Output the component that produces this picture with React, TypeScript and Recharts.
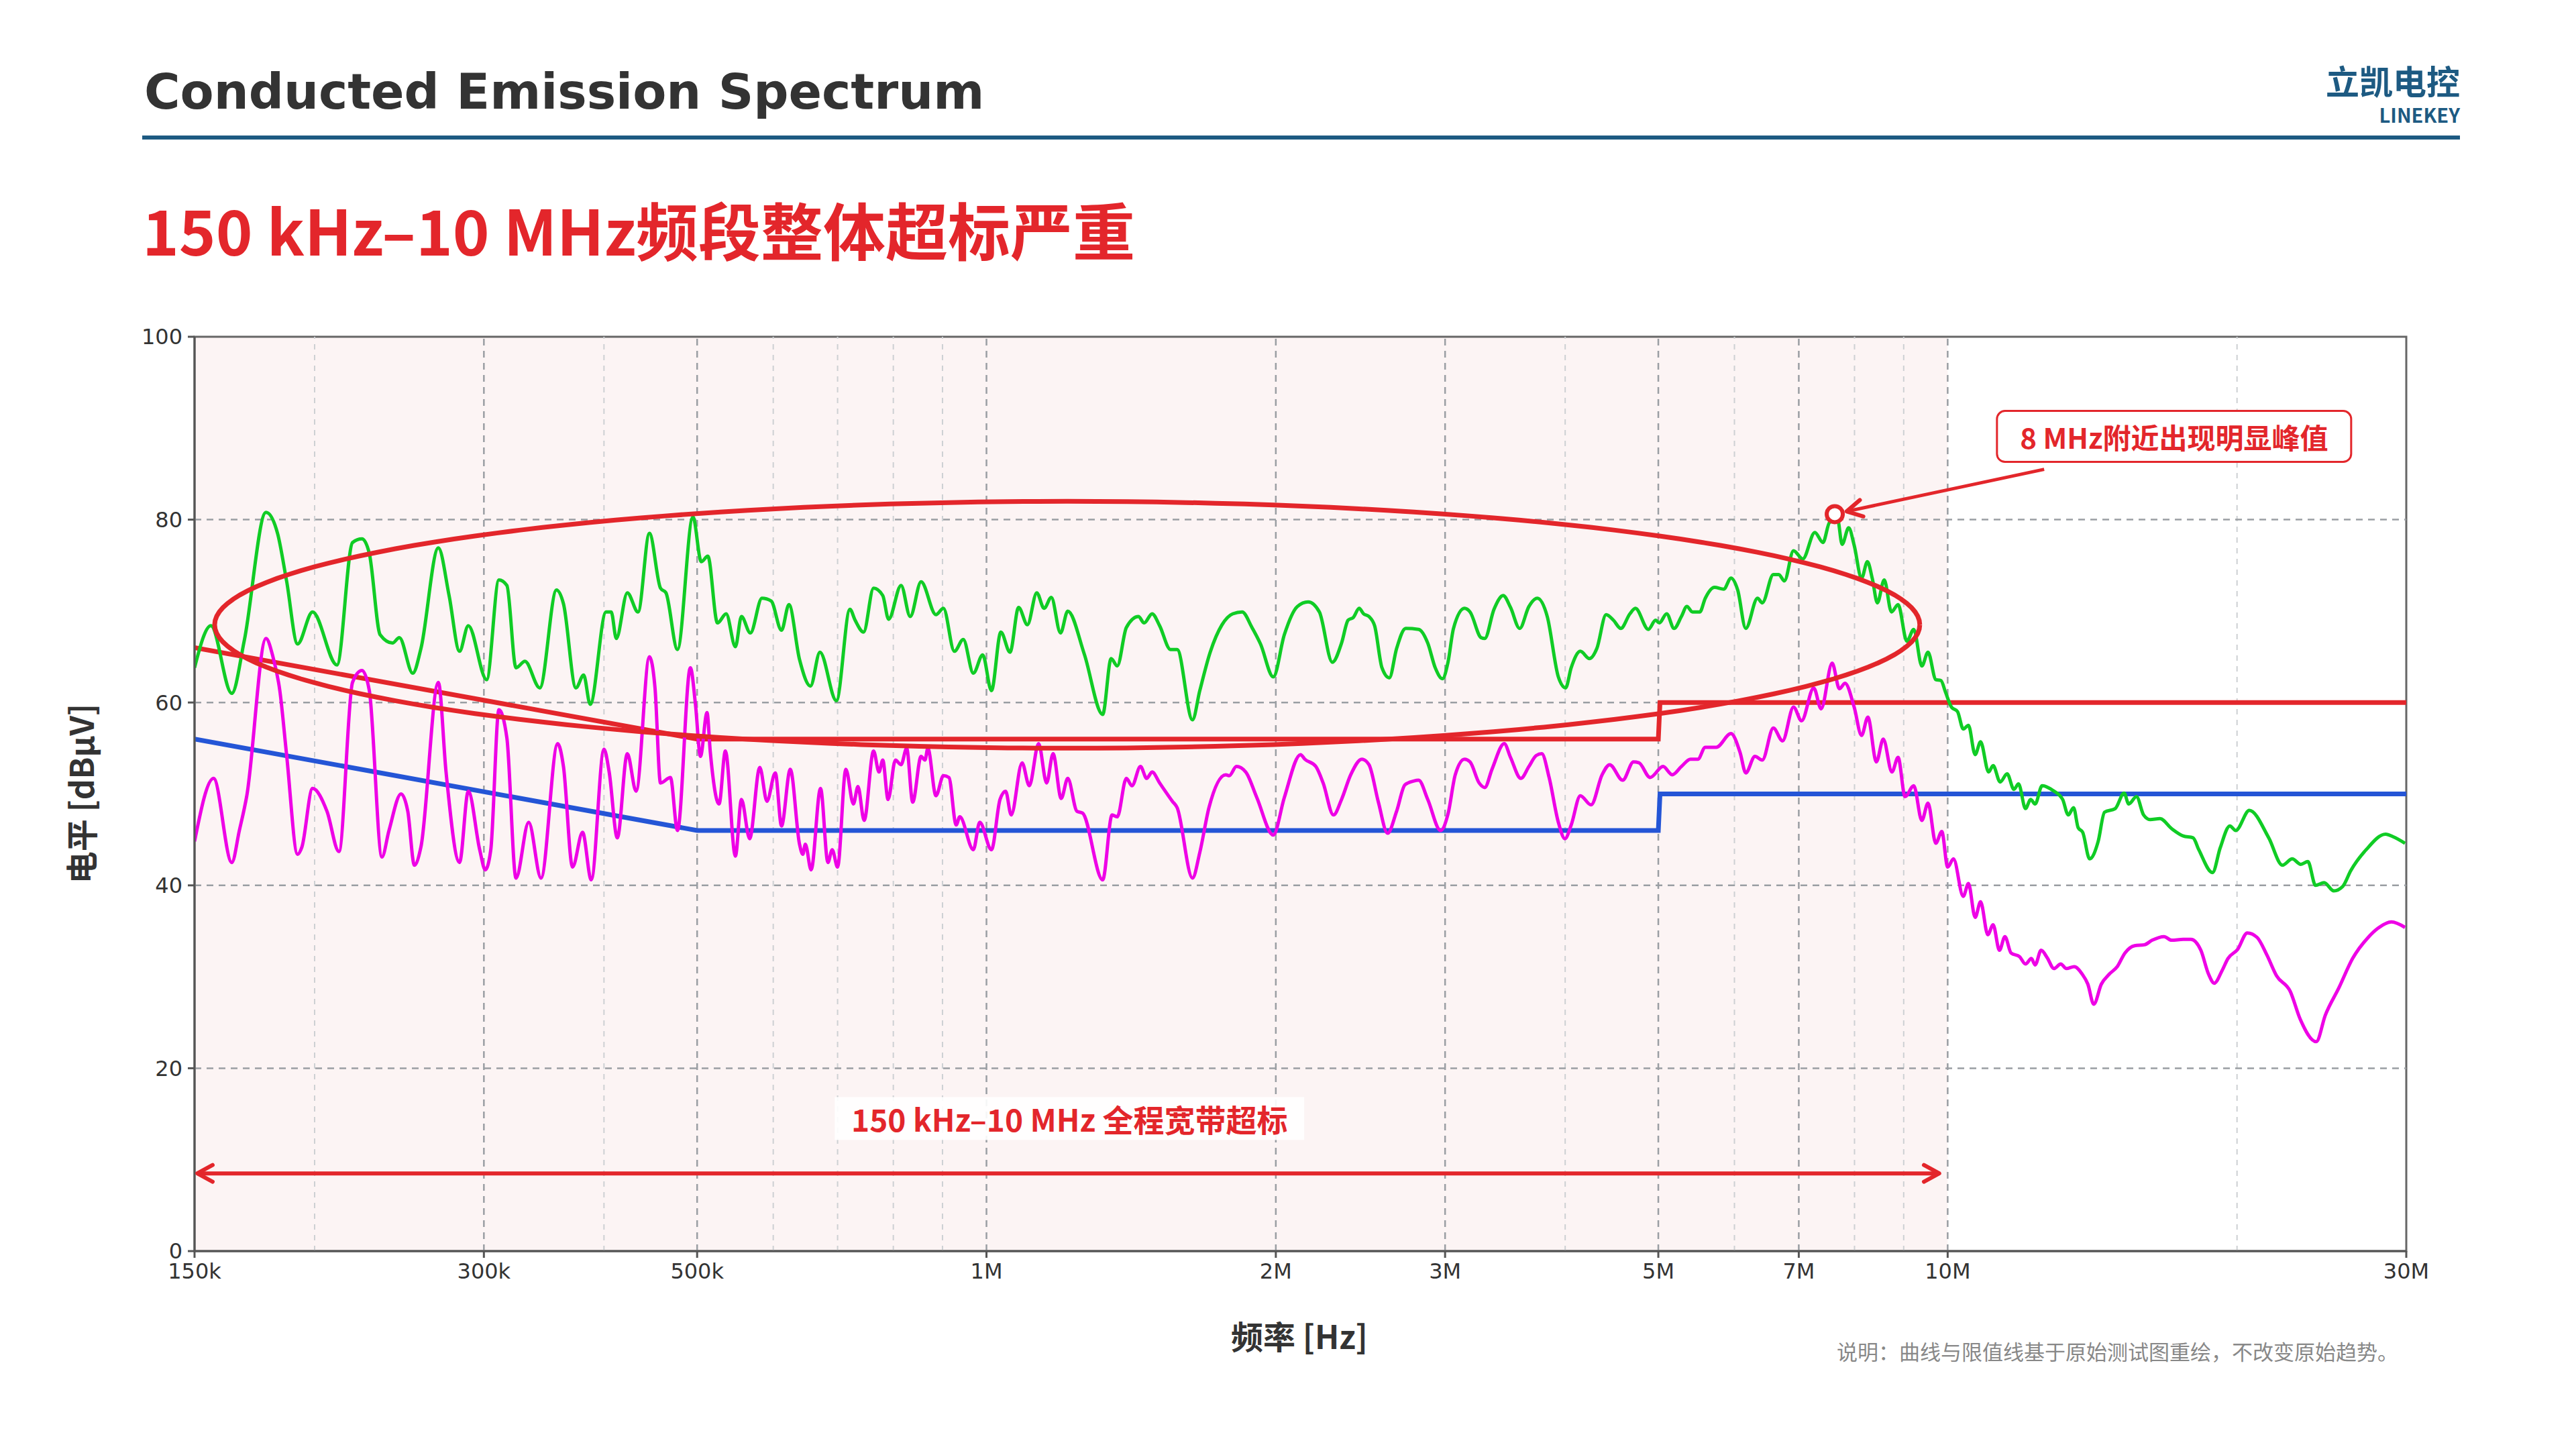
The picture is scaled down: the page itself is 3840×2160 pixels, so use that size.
import React from 'react';
import {
  ComposedChart, Line, XAxis, YAxis, ReferenceLine, ReferenceArea, ReferenceDot,
} from 'recharts';

// frequencies in MHz, levels in dBµV
const peakTrace = [
  [0.150,63.8],[0.156,68.4],[0.164,61.0],[0.169,66.8],[0.178,80.8],[0.183,78.5],[0.187,73.3],[0.192,66.4],[0.199,69.9],[0.211,64.1],
  [0.219,77.5],[0.224,77.9],[0.228,76.3],[0.234,67.4],[0.241,66.5],[0.245,67.1],[0.253,63.2],[0.258,65.9],[0.269,76.9],[0.276,71.7],
  [0.283,65.6],[0.289,68.4],[0.302,62.5],[0.311,73.4],[0.317,72.8],[0.324,63.8],[0.331,64.5],[0.343,61.6],[0.357,72.3],[0.363,70.8],
  [0.374,61.6],[0.381,63.0],[0.387,59.8],[0.402,69.9],[0.407,69.9],[0.412,67.0],[0.423,72.0],[0.434,69.9],[0.446,78.5],[0.458,72.5],
  [0.464,72.0],[0.477,65.8],[0.495,80.3],[0.505,75.4],[0.513,76.0],[0.525,68.7],[0.536,69.7],[0.548,66.1],[0.556,69.4],[0.568,67.6],
  [0.584,71.4],[0.597,71.1],[0.612,67.9],[0.623,70.7],[0.639,64.7],[0.656,61.8],[0.671,65.5],[0.698,60.2],[0.721,70.2],[0.730,69.0],
  [0.745,67.7],[0.763,72.5],[0.780,71.7],[0.791,69.1],[0.815,72.8],[0.833,69.4],[0.855,73.2],[0.886,69.6],[0.902,70.3],[0.926,65.6],
  [0.946,66.9],[0.969,63.2],[0.991,65.2],[1.012,61.3],[1.035,67.7],[1.058,65.5],[1.080,70.4],[1.103,68.5],[1.128,72.0],[1.148,70.3],
  [1.168,71.5],[1.194,67.6],[1.215,70.0],[1.264,65.3],[1.321,58.7],[1.348,64.8],[1.368,64.0],[1.398,68.2],[1.439,69.4],[1.459,68.7],
  [1.487,69.7],[1.514,68.4],[1.554,65.8],[1.579,65.8],[1.638,58.1],[1.667,61.3],[1.709,65.5],[1.758,68.5],[1.804,69.7],[1.845,69.9],
  [1.889,68.2],[1.928,66.4],[1.988,62.8],[2.041,67.4],[2.106,70.5],[2.161,71.0],[2.220,69.9],[2.290,64.4],[2.341,66.5],[2.378,69.0],
  [2.408,69.3],[2.442,70.3],[2.468,69.7],[2.500,69.4],[2.534,68.4],[2.579,63.8],[2.625,62.7],[2.671,65.9],[2.730,68.1],[2.816,68.0],
  [2.878,66.5],[2.930,63.8],[2.981,62.6],[3.021,64.4],[3.061,68.1],[3.143,70.3],[3.185,69.9],[3.270,67.1],[3.299,67.0],[3.373,70.2],
  [3.448,71.7],[3.509,70.4],[3.587,68.1],[3.667,70.5],[3.742,71.4],[3.832,69.4],[3.935,62.8],[4.004,61.6],[4.058,63.8],[4.148,65.6],
  [4.240,64.8],[4.315,65.9],[4.412,69.6],[4.490,69.0],[4.570,68.1],[4.671,69.7],[4.733,70.3],[4.882,68.0],[4.968,69.0],[5.012,68.7],
  [5.101,69.7],[5.192,68.1],[5.284,69.4],[5.354,70.5],[5.426,69.9],[5.522,69.9],[5.595,71.4],[5.720,72.6],[5.848,72.4],[5.951,73.6],
  [6.047,72.3],[6.165,68.1],[6.341,71.4],[6.414,70.9],[6.586,74.0],[6.673,74.0],[6.763,73.3],[6.912,76.6],[7.067,75.7],[7.275,78.6],
  [7.417,77.5],[7.536,79.7],[7.683,80.0],[7.765,77.3],[7.889,79.1],[7.993,77.2],[8.136,73.6],[8.25,75.4],[8.35,73.5],[8.45,70.9],
  [8.59,73.4],[8.74,69.9],[8.88,70.7],[9.07,66.7],[9.22,68.0],[9.40,64.0],[9.54,65.5],[9.72,62.5],[9.84,62.4],[9.95,61.1],
  [10.09,59.5],[10.24,59.0],[10.38,57.1],[10.51,57.5],[10.68,54.3],[10.82,55.7],[11.03,52.4],[11.15,53.1],[11.34,51.3],[11.53,52.2],
  [11.72,50.5],[11.85,51.1],[12.05,48.4],[12.20,49.4],[12.33,48.9],[12.54,50.9],[12.86,50.4],[13.17,49.4],[13.35,47.7],[13.52,48.5],
  [13.67,46.3],[13.82,45.8],[14.05,42.9],[14.34,44.8],[14.56,48.0],[14.94,48.4],[15.26,50.1],[15.43,48.9],[15.72,49.7],[15.99,47.7],
  [16.24,47.2],[16.63,47.3],[17.10,46.2],[17.58,45.4],[18.00,45.2],[18.25,43.9],[18.86,41.4],[19.21,44.1],[19.66,46.5],[19.94,46.0],
  [20.60,48.2],[21.58,45.2],[22.30,42.2],[22.83,42.9],[23.30,42.3],[23.70,42.6],[24.14,40.0],[24.64,40.3],[25.22,39.4],[25.77,39.9],
  [26.26,41.6],[27.25,43.9],[28.55,45.6],[29.09,45.3],[29.91,44.6],
];

const avgTrace = [
  [0.150,44.8],[0.157,51.7],[0.164,42.5],[0.167,46.0],[0.170,49.8],[0.178,67.0],[0.181,65.0],[0.184,61.3],[0.187,54.3],[0.192,43.4],
  [0.194,44.2],[0.199,50.6],[0.206,48.1],[0.212,43.7],[0.219,62.2],[0.224,63.5],[0.228,61.3],[0.235,43.1],[0.239,46.0],[0.246,50.0],
  [0.250,48.1],[0.254,42.2],[0.258,44.2],[0.269,62.2],[0.274,52.4],[0.283,42.5],[0.289,50.3],[0.297,43.9],[0.301,41.7],[0.305,43.9],
  [0.311,59.2],[0.317,56.1],[0.324,40.8],[0.334,46.9],[0.344,40.8],[0.358,55.5],[0.363,53.0],[0.371,42.0],[0.380,45.8],[0.388,40.6],
  [0.400,54.9],[0.405,52.4],[0.413,45.2],[0.423,54.4],[0.432,50.3],[0.446,65.0],[0.452,61.6],[0.458,51.2],[0.469,51.8],[0.477,46.0],
  [0.492,63.8],[0.498,59.8],[0.504,54.1],[0.512,58.9],[0.516,54.6],[0.527,48.9],[0.535,54.7],[0.548,43.2],[0.556,49.4],[0.567,45.1],
  [0.581,52.9],[0.591,49.2],[0.603,52.3],[0.612,46.5],[0.625,52.7],[0.639,44.5],[0.644,43.4],[0.648,44.5],[0.657,41.7],[0.672,50.6],
  [0.684,42.5],[0.691,43.9],[0.700,42.0],[0.714,52.7],[0.727,48.9],[0.735,50.8],[0.746,47.1],[0.763,54.7],[0.773,52.4],[0.780,53.7],
  [0.790,49.4],[0.804,53.7],[0.815,53.2],[0.826,55.0],[0.838,49.1],[0.855,54.1],[0.863,53.7],[0.869,55.0],[0.886,49.8],[0.902,52.0],
  [0.914,51.8],[0.930,46.6],[0.938,47.5],[0.969,43.9],[0.984,46.9],[1.012,43.9],[1.033,49.4],[1.047,50.3],[1.061,47.7],[1.089,53.4],
  [1.108,50.9],[1.133,55.5],[1.155,51.2],[1.173,54.4],[1.196,49.5],[1.215,51.7],[1.242,48.1],[1.259,47.9],[1.321,40.6],[1.351,47.7],
  [1.368,47.5],[1.398,51.7],[1.417,50.9],[1.446,53.0],[1.468,51.7],[1.487,52.4],[1.514,51.2],[1.561,49.2],[1.579,48.5],[1.638,40.8],
  [1.667,43.6],[1.704,48.5],[1.774,52.1],[1.789,52.0],[1.820,53.0],[1.861,52.4],[1.911,49.6],[1.988,45.5],[2.041,49.6],[2.122,54.3],
  [2.144,53.8],[2.201,53.0],[2.240,51.2],[2.296,47.7],[2.341,49.4],[2.393,52.1],[2.458,53.8],[2.500,53.2],[2.557,49.1],[2.614,45.7],
  [2.671,48.1],[2.725,51.0],[2.781,51.4],[2.816,51.5],[2.878,49.4],[2.968,46.0],[3.021,47.8],[3.074,52.1],[3.143,53.8],[3.185,53.5],
  [3.255,51.2],[3.299,50.7],[3.357,52.7],[3.457,55.5],[3.509,54.0],[3.597,51.7],[3.667,53.0],[3.732,54.2],[3.782,54.4],[3.849,51.8],
  [3.935,46.9],[3.998,45.1],[4.058,46.6],[4.148,49.8],[4.256,48.8],[4.370,52.1],[4.450,53.2],[4.591,51.5],[4.711,53.5],[4.774,53.4],
  [4.903,51.8],[5.057,53.0],[5.169,52.1],[5.284,53.0],[5.401,53.8],[5.497,53.8],[5.595,55.1],[5.745,55.1],[5.951,56.6],[6.083,54.5],
  [6.165,52.3],[6.302,54.1],[6.414,53.7],[6.586,57.2],[6.733,55.8],[6.912,59.5],[7.047,58.0],[7.255,61.6],[7.385,59.3],[7.583,64.3],
  [7.716,61.5],[7.820,62.1],[7.993,59.5],[8.136,56.4],[8.26,58.4],[8.43,53.5],[8.57,56.0],[8.75,52.4],[8.88,54.0],[9.03,49.7],
  [9.22,50.9],[9.40,47.1],[9.54,49.0],[9.72,44.6],[9.86,45.9],[10.0,42.0],[10.14,42.9],[10.38,38.8],[10.51,40.2],[10.68,36.5],
  [10.82,38.2],[11.01,34.6],[11.15,35.7],[11.32,32.9],[11.47,34.4],[11.64,32.6],[11.88,32.2],[12.05,31.4],[12.22,32.0],[12.33,31.3],
  [12.51,32.9],[12.69,32.1],[12.90,30.9],[13.11,31.4],[13.29,30.9],[13.54,31.1],[13.80,30.3],[13.99,29.2],[14.19,27.0],[14.45,29.2],
  [14.73,30.3],[15.01,31.1],[15.29,32.6],[15.65,33.4],[16.02,33.5],[16.32,34.0],[16.79,34.4],[17.10,34.0],[17.58,34.1],[17.91,34.1],
  [18.34,32.9],[18.68,30.3],[18.94,29.3],[19.30,30.7],[19.57,32.0],[20.03,33.0],[20.50,34.8],[20.99,34.3],[21.48,32.4],[21.99,30.1],
  [22.72,28.4],[23.26,25.4],[24.18,22.9],[24.71,25.8],[25.53,28.8],[26.38,32.0],[27.38,34.3],[28.03,35.3],[28.95,36.0],[29.91,35.4],
];

const qpLimit = [[0.15,66],[0.5,56],[5,56],[5.02,60],[30,60]];
const avLimit = [[0.15,56],[0.5,46],[5,46],[5.02,50],[30,50]];

const xTicks = [0.15, 0.3, 0.5, 1, 2, 3, 5, 7, 10, 30];
const xTickLabels = ['150k', '300k', '500k', '1M', '2M', '3M', '5M', '7M', '10M', '30M'];
const majorGridX = [0.3, 0.5, 1, 2, 3, 5, 7, 10];
const minorGridX = [0.2, 0.4, 0.6, 0.7, 0.8, 0.9, 4, 6, 8, 9, 20];
const yTicks = [0, 20, 40, 60, 80, 100];
const gridY = [20, 40, 60, 80];

// annotation geometry (decades of log f, dBµV)
const ellipseCenter = { logF: 6.084, level: 68.5 };
const ellipseRadius = { logF: 0.887, level: 13.5 };
const ellipsePts = Array.from({ length: 181 }, (_, i) => {
  const t = (i / 180) * 2 * Math.PI;
  return {
    f: Math.pow(10, ellipseCenter.logF + ellipseRadius.logF * Math.cos(t)) / 1e6,
    v: ellipseCenter.level + ellipseRadius.level * Math.sin(t),
  };
});
const spanArrow = [{ f: 0.151, v: 8.5 }, { f: 9.8, v: 8.5 }];
const calloutArrow = [{ f: 12.6, v: 85.5 }, { f: 7.85, v: 80.9 }];
const peakMark = { f: 7.63, v: 80.6 };

const toRows = (arr: number[][]) => arr.map(([f, v]) => ({ f, v }));

const RED = '#e3262b';
const BLUE = '#2455d6';
const NAVY = '#1d5a82';
const CJK = '"Noto Sans CJK SC", "Noto Sans", sans-serif';

const chevron = (x: number, y: number, ang: number, key: string) => {
  const L = 26, a = 0.5;
  const p1 = [x - L * Math.cos(ang - a), y - L * Math.sin(ang - a)];
  const p2 = [x - L * Math.cos(ang + a), y - L * Math.sin(ang + a)];
  return (
    <polyline key={key} points={`${p1[0]},${p1[1]} ${x},${y} ${p2[0]},${p2[1]}`}
      fill="none" stroke={RED} strokeWidth={6} strokeLinecap="round" strokeLinejoin="round" />
  );
};

const makeArrowDot = (both: boolean) => {
  let start: { x: number; y: number } | null = null;
  return (p: any) => {
    if (p.index === 0) {
      start = { x: p.cx, y: p.cy };
      return both ? chevron(p.cx, p.cy, Math.PI, 'a0') : <g key="a0" />;
    }
    const s = start || { x: p.cx - 1, y: p.cy };
    return chevron(p.cx, p.cy, Math.atan2(p.cy - s.y, p.cx - s.x), 'a1');
  };
};

const boxLabel = (text: string, w: number, h: number, border: boolean, size: number) => (p: any) => (
  <g>
    <rect x={p.cx - w / 2} y={p.cy - h / 2} width={w} height={h} rx={border ? 12 : 0}
      fill="#ffffff" fillOpacity={border ? 1 : 0.9} stroke={border ? RED : 'none'} strokeWidth={3} />
    <text x={p.cx} y={p.cy} textAnchor="middle" dominantBaseline="central"
      fontFamily={CJK} fontWeight={700} fontSize={size} fill={RED}>{text}</text>
  </g>
);

const abs = (s: React.CSSProperties): React.CSSProperties => ({ position: 'absolute', lineHeight: 1, whiteSpace: 'nowrap', ...s });

export default function App() {
  return (
    <div style={{ position: 'absolute', left: 0, top: 0, width: 3840, height: 2160, background: '#fff', overflow: 'hidden' }}>
      <div style={abs({ left: 215, top: 100, fontFamily: '"DejaVu Sans", sans-serif', fontWeight: 700, fontSize: 73, color: '#333' })}>
        Conducted Emission Spectrum
      </div>
      <div style={abs({ right: 173, top: 94, fontFamily: CJK, fontWeight: 700, fontSize: 50, color: NAVY })}>立凯电控</div>
      <div style={abs({ right: 173, top: 156, fontFamily: CJK, fontWeight: 700, fontSize: 29, color: NAVY })}>LINEKEY</div>
      <div style={{ position: 'absolute', left: 212, top: 202, width: 3455, height: 6, background: NAVY }} />
      <div style={abs({ left: 212, top: 294, fontFamily: CJK, fontWeight: 700, fontSize: 93, color: RED })}>
        150 kHz–10 MHz频段整体超标严重
      </div>
      <div style={abs({ left: 119, top: 1183, transform: 'translate(-50%, -50%) rotate(-90deg)', fontFamily: CJK, fontWeight: 700, fontSize: 48, color: '#333' })}>
        电平 [dBµV]
      </div>
      <div style={abs({ left: 1937, top: 1966, transform: 'translateX(-50%)', fontFamily: CJK, fontWeight: 700, fontSize: 48, color: '#333' })}>
        频率 [Hz]
      </div>
      <div style={abs({ right: 265, top: 1998, fontFamily: CJK, fontSize: 31, color: '#888' })}>
        说明：曲线与限值线基于原始测试图重绘，不改变原始趋势。
      </div>

      <div style={{ position: 'absolute', left: 0, top: 0 }}>
        <ComposedChart width={3840} height={2160} margin={{ top: 502, right: 253, bottom: 235, left: 190 }}>
          <ReferenceArea x1={0.15} x2={10} y1={0} y2={100} fill="#fcf4f4" fillOpacity={1} stroke="none" />
          {minorGridX.map((m) => (
            <ReferenceLine key={`mn${m}`} x={m} stroke="#cdd0d3" strokeWidth={2} strokeDasharray="8 8" />
          ))}
          {majorGridX.map((m) => (
            <ReferenceLine key={`mj${m}`} x={m} stroke="#9a9ea3" strokeWidth={2.5} strokeDasharray="10 8" />
          ))}
          {gridY.map((g) => (
            <ReferenceLine key={`gy${g}`} y={g} stroke="#9a9ea3" strokeWidth={2.5} strokeDasharray="10 8" />
          ))}
          <XAxis dataKey="f" type="number" scale="log" domain={[0.15, 30]} ticks={xTicks} allowDataOverflow
            tickFormatter={(t: number) => xTickLabels[xTicks.indexOf(t)] ?? ''} height={60}
            tick={{ fontSize: 32, fill: '#333', fontFamily: '"DejaVu Sans", sans-serif' }}
            stroke="#555" strokeWidth={3} tickSize={10} tickMargin={8} />
          <YAxis type="number" domain={[0, 100]} ticks={yTicks} width={100}
            tick={{ fontSize: 32, fill: '#333', fontFamily: '"DejaVu Sans", sans-serif' }}
            stroke="#555" strokeWidth={3} tickSize={10} tickMargin={8} />
          <ReferenceArea x1={0.15} x2={30} y1={0} y2={100} fill="none" stroke="#666" strokeWidth={3} />

          <Line data={toRows(qpLimit)} dataKey="v" type="linear" stroke={RED} strokeWidth={7} dot={false} isAnimationActive={false} />
          <Line data={toRows(avLimit)} dataKey="v" type="linear" stroke={BLUE} strokeWidth={7} dot={false} isAnimationActive={false} />
          <Line data={toRows(peakTrace)} dataKey="v" type="monotone" stroke="#10cc25" strokeWidth={5} dot={false} isAnimationActive={false} />
          <Line data={toRows(avgTrace)} dataKey="v" type="monotone" stroke="#ee00e6" strokeWidth={5} dot={false} isAnimationActive={false} />

          <Line data={ellipsePts} dataKey="v" type="linear" stroke={RED} strokeWidth={7} dot={false} isAnimationActive={false} />
          <Line data={spanArrow} dataKey="v" type="linear" stroke={RED} strokeWidth={6} dot={makeArrowDot(true)} isAnimationActive={false} />
          <Line data={calloutArrow} dataKey="v" type="linear" stroke={RED} strokeWidth={5} dot={makeArrowDot(false)} isAnimationActive={false} />
          <ReferenceDot x={peakMark.f} y={peakMark.v} r={12} fill="#fff" stroke={RED} strokeWidth={6} />
          <ReferenceDot x={17.2} y={89.1} r={0} shape={boxLabel('8 MHz附近出现明显峰值', 528, 76, true, 42)} />
          <ReferenceDot x={1.22} y={14.5} r={0} shape={boxLabel('150 kHz–10 MHz  全程宽带超标', 700, 64, false, 46)} />
        </ComposedChart>
      </div>
    </div>
  );
}
